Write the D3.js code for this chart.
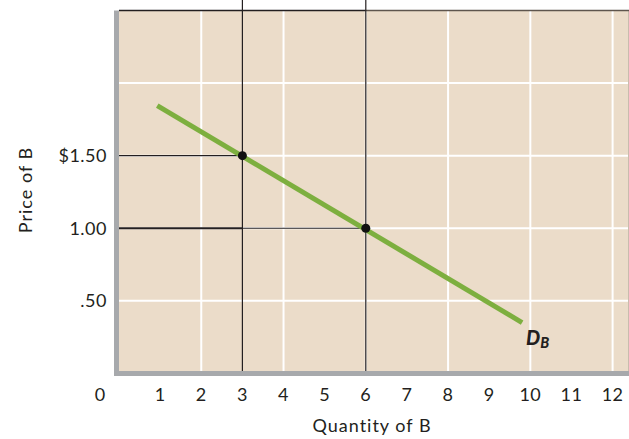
<!DOCTYPE html>
<html><head><meta charset="utf-8">
<script src="https://cdn.jsdelivr.net/npm/d3@7"></script>
<style>
html,body{margin:0;padding:0;background:#fff;}
svg{display:block;}
text{font-family:Lato,"Open Sans",sans-serif;fill:#231f20;}
</style></head>
<body>
<svg id="c" width="629" height="439"></svg>
<script>
// Data
const xTicks = [1,2,3,4,5,6,7,8,9,10,11,12];
const xGrid = [2,4,6,8,10,12];
const yTicks = [0.5, 1.0, 1.5];
const yTickLabels = [".50", "1.00", "$1.50"];
const yGrid = [0.5, 1.0, 1.5, 2.0];
const demandQ = [0.93, 9.8];
const demandP = [1.845, 0.35];
const pointsQ = [3, 6];
const pointsP = [1.5, 1.0];

const svg = d3.select("#c");
const W = 629;
const x = d3.scaleLinear().domain([0,12]).range([119, 612.6]);
const y = d3.scaleLinear().domain([0,2.5]).range([373.4, 10.5]);

// background plot
svg.append("rect").attr("x",119).attr("y",y(2.5)).attr("width",W-119).attr("height",y(0)-y(2.5)).attr("fill","#ebdcc9");

// gridlines
svg.selectAll(".vg").data(xGrid).enter().append("line")
  .attr("x1",d=>x(d)).attr("x2",d=>x(d)).attr("y1",y(2.5)).attr("y2",y(0))
  .attr("stroke","#fff").attr("stroke-width",2);
svg.selectAll(".hg").data(yGrid).enter().append("line")
  .attr("x1",119).attr("x2",W).attr("y1",d=>y(d)).attr("y2",d=>y(d))
  .attr("stroke","#fff").attr("stroke-width",2);

// right edge faint line
svg.append("line").attr("x1",628.5).attr("x2",628.5).attr("y1",y(2.5)).attr("y2",y(0)).attr("stroke","#c9bcae").attr("stroke-width",1);

// top border
svg.append("line").attr("x1",119).attr("x2",x(6)).attr("y1",y(2.5)).attr("y2",y(2.5)).attr("stroke","#231f20").attr("stroke-width",1.5);
svg.append("line").attr("x1",x(6)).attr("x2",W).attr("y1",y(2.5)).attr("y2",y(2.5)).attr("stroke","#5e554d").attr("stroke-width",1.5);

// reference lines
pointsQ.forEach((q,i)=>{
  svg.append("line").attr("x1",x(q)).attr("x2",x(q)).attr("y1",0).attr("y2",y(0))
    .attr("stroke","#231f20").attr("stroke-width",1.2);
});
svg.append("line").attr("x1",119).attr("x2",x(pointsQ[0])).attr("y1",y(pointsP[0])).attr("y2",y(pointsP[0])).attr("stroke","#231f20").attr("stroke-width",1.2);
svg.append("line").attr("x1",119).attr("x2",x(pointsQ[0])).attr("y1",y(pointsP[1])).attr("y2",y(pointsP[1])).attr("stroke","#231f20").attr("stroke-width",2);
svg.append("line").attr("x1",x(pointsQ[0])).attr("x2",x(pointsQ[1])).attr("y1",y(pointsP[1])).attr("y2",y(pointsP[1])).attr("stroke","#231f20").attr("stroke-width",1.2);

// axes (gray)
svg.append("rect").attr("x",114).attr("y",y(2.5)).attr("width",5).attr("height",376-y(2.5)).attr("fill","#a7a9ac");
svg.append("rect").attr("x",114).attr("y",371).attr("width",W-114).attr("height",5).attr("fill","#a7a9ac");

// demand line
const line = d3.line().x(d=>x(d[0])).y(d=>y(d[1]));
svg.append("path").datum(demandQ.map((q,i)=>[q,demandP[i]]))
  .attr("d",line).attr("fill","none").attr("stroke","#7daf3f").attr("stroke-width",5);

// points
svg.selectAll(".pt").data(pointsQ.map((q,i)=>[q,pointsP[i]])).enter().append("circle")
  .attr("cx",d=>x(d[0])).attr("cy",d=>y(d[1])).attr("r",4.5).attr("fill","#111");

// tick labels
svg.selectAll(".xt").data(xTicks).enter().append("text")
  .attr("x",d=>x(d)).attr("y",401).attr("text-anchor","middle").attr("font-size",18).attr("letter-spacing",0.5).text(d=>d);
svg.append("text").attr("x",100).attr("y",401).attr("text-anchor","middle").attr("font-size",18).text("0");
svg.selectAll(".yt").data(yTicks).enter().append("text")
  .attr("x",107).attr("y",d=>y(d)+6.5).attr("text-anchor","end").attr("font-size",18).attr("letter-spacing",0.5).text((d,i)=>yTickLabels[i]);

// axis titles
svg.append("text").attr("x",372).attr("y",432).attr("text-anchor","middle").attr("font-size",18).attr("letter-spacing",1).text("Quantity of B");
svg.append("text").attr("transform","translate(32,190) rotate(-90)").attr("text-anchor","middle").attr("font-size",18).attr("letter-spacing",1).text("Price of B");

// D_B label
const lab = svg.append("text").attr("x",526).attr("y",345).attr("font-weight","900").attr("font-style","italic");
lab.append("tspan").attr("font-size",20).text("D");
lab.append("tspan").attr("font-size",14.5).attr("dy",3).text("B");
</script>
</body></html>
